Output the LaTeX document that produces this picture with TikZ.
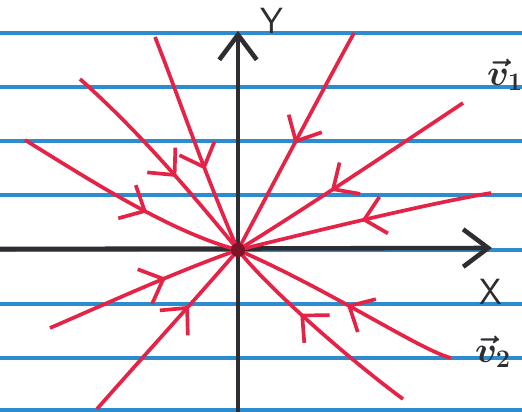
\documentclass[tikz,border=0pt]{standalone}
\usepackage{amsmath}
\usetikzlibrary{arrows.meta,decorations.markings}
\definecolor{ruled}{RGB}{45,140,205}
\definecolor{pen}{RGB}{228,35,70}
\definecolor{pencil}{RGB}{45,45,50}

\begin{document}
\begin{tikzpicture}[
    x=0.02cm, y=-0.02cm,
    rule/.style={draw=ruled, line width=1.9pt},
    axis/.style={draw=pencil, line width=2.6pt, -{Straight Barb[length=5mm,width=7.5mm]}},
    traj/.style={draw=pen, line width=2.1pt, postaction={decorate},
        decoration={markings, mark=at position #1 with {\arrow{Straight Barb[length=4mm,width=7.5mm]}}}},
    lbl/.style={text=pencil, font=\huge\sffamily},
    vlbl/.style={text=pencil, font=\huge\boldmath}
]
\useasboundingbox[fill=white] (0,0) rectangle (522,412);

% Lignes du papier
\foreach \h in {33,87,141,195,250,304,358,410}
  \draw[rule] (0,\h) -- (522,\h);

% Axes
\coordinate (O) at (238,250);
\coordinate (xa) at (0,249);
\coordinate (xb) at (492,248);
\coordinate (ya) at (238,412);
\coordinate (yb) at (238,31);
\draw[axis] (xa) -- (xb);
\draw[axis] (ya) -- (yb);
\node[lbl] (ylab) at (272,21) {Y};
\node[lbl] (xlab) at (491,292) {X};

% Trajectoires
\coordinate (t1) at (155,37);
\coordinate (t2) at (80,79);
\coordinate (t3) at (25,140);
\coordinate (t4) at (50,328);
\coordinate (t5) at (97,409);
\coordinate (t6) at (354,33);
\coordinate (t7) at (463,103);
\coordinate (t8) at (491,193);
\coordinate (t9) at (451,358);
\coordinate (t10) at (403,399);
\draw[traj=0.62] (t1) .. controls (178,95) and (205,175) .. (O);
\draw[traj=0.59] (t2) .. controls (135,128) and (185,185) .. (O);
\draw[traj=0.59] (t3) .. controls (90,180) and (170,232) .. (O);
\draw[traj=0.62] (t4) .. controls (110,302) and (180,270) .. (O);
\draw[traj=0.65] (t5) .. controls (140,360) and (195,300) .. (O);
\draw[traj=0.51] (t6) .. controls (320,95) and (270,190) .. (O);
\draw[traj=0.59] (t7) .. controls (400,145) and (300,212) .. (O);
\draw[traj=0.51] (t8) .. controls (420,205) and (300,235) .. (O);
\draw[traj=0.49] (t9) .. controls (420,350) and (330,290) .. (O);
\draw[traj=0.60] (t10) .. controls (350,360) and (270,290) .. (O);
\fill[pen!55!black] (O) circle[radius=4pt];

% Vecteurs propres
\node[vlbl] (v1) at (505,75) {$\vec{v}_1$};
\node[vlbl] (v2) at (493,352) {$\vec{v}_2$};

\end{tikzpicture}
\end{document}
